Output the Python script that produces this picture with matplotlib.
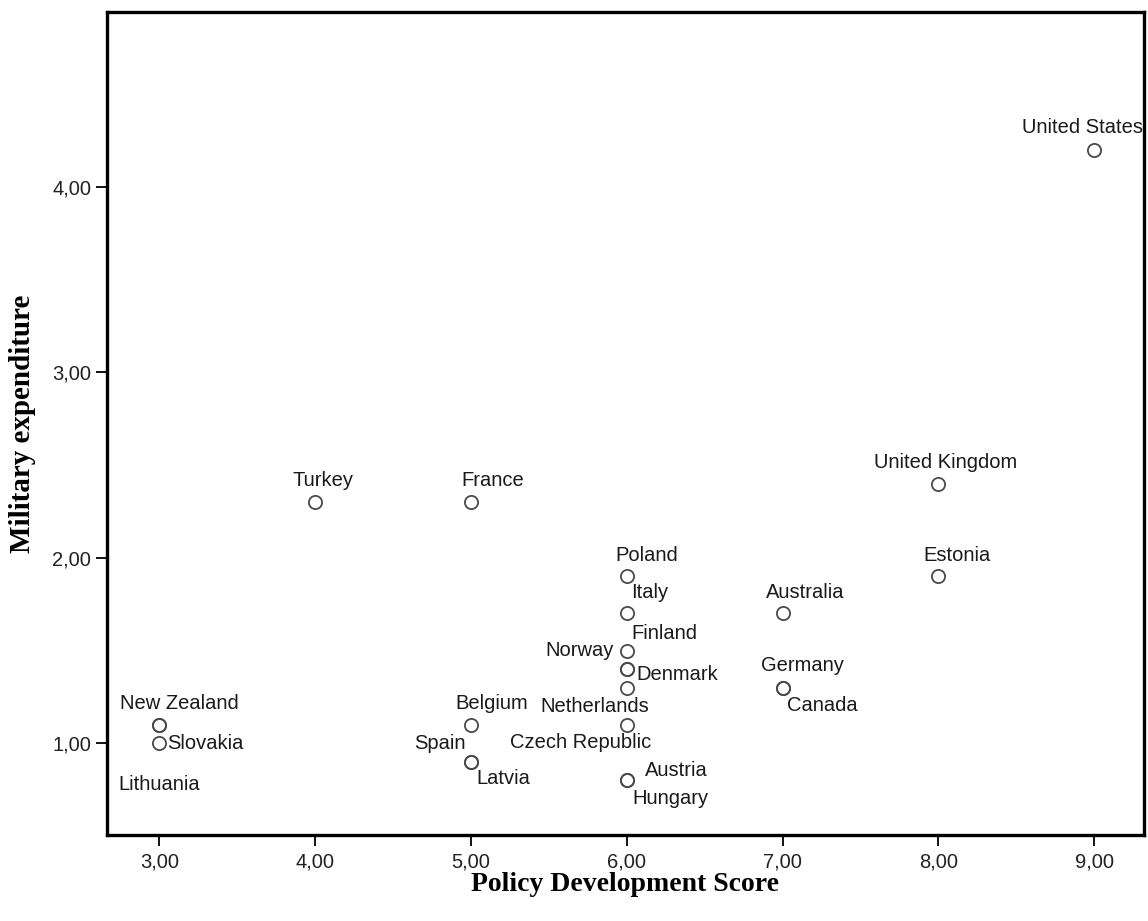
import matplotlib
matplotlib.use("Agg")
import matplotlib.pyplot as plt
from matplotlib.ticker import FuncFormatter

# policy development score vs military expenditure (% GDP)
countries = [
    "United States", "United Kingdom", "Estonia", "Turkey", "France",
    "Poland", "Italy", "Finland", "Norway", "Denmark", "Netherlands",
    "Czech Republic", "Austria", "Hungary", "Australia", "Germany", "Canada",
    "Belgium", "Spain", "Latvia", "New Zealand", "Slovakia", "Lithuania",
]
policy_score = [9, 8, 8, 4, 5, 6, 6, 6, 6, 6, 6, 6, 6, 6, 7, 7, 7, 5, 5, 5, 3, 3, 3]
military_exp = [4.2, 2.4, 1.9, 2.3, 2.3, 1.9, 1.7, 1.4, 1.5, 1.4, 1.3,
                1.1, 0.8, 0.8, 1.7, 1.3, 1.3, 1.1, 0.9, 0.9, 1.1, 1.0, 1.1]

# label offsets from the point, in pixels (dx, dy)
label_offsets = [
    (-12, 22), (7, 21), (19, 21), (8, 22), (22, 22),
    (20, 21), (23, 21), (38, 36), (-47, 0), (50, -5), (-32, -19),
    (-46, -18), (50, 10), (44, -18), (23, 21), (20, 22), (40, -18),
    (21, 21), (-31, 18), (32, -17), (20, 21), (46, 0), (0, -60),
]

x_ticks = [3, 4, 5, 6, 7, 8, 9]
y_ticks = [1, 2, 3, 4]


def comma_fmt(v, _pos):
    return f"{v:.2f}".replace(".", ",")


def main() -> None:
    plt.rcParams["font.family"] = ["Liberation Sans", "DejaVu Sans"]
    fig = plt.figure(figsize=(11.48, 9.21), dpi=100)
    ax = fig.add_axes([106.5 / 1148, 1 - 834.5 / 921, (1144 - 106.5) / 1148, (834.5 - 12.5) / 921])

    ax.plot(policy_score, military_exp, linestyle="none", marker="o", markersize=9.5,
            markerfacecolor="none", markeredgecolor="#4a4a4a", markeredgewidth=1.3)

    for name, px, py, (dx, dy) in zip(countries, policy_score, military_exp, label_offsets):
        ax.annotate(name, (px, py), xytext=(dx, dy), textcoords="offset pixels",
                    ha="center", va="center", fontsize=14.5, color="#1a1a1a")

    ax.set_xlim(2.66, 9.32)
    ax.set_ylim(0.508, 4.94)
    ax.set_xticks(x_ticks)
    ax.set_yticks(y_ticks)
    ax.xaxis.set_major_formatter(FuncFormatter(comma_fmt))
    ax.yaxis.set_major_formatter(FuncFormatter(comma_fmt))
    ax.tick_params(axis="both", direction="out", length=8, width=1.3, color="black",
                   labelsize=14.5, labelcolor="#222222", pad=3)
    ax.tick_params(axis="x", pad=5)

    for sp in ax.spines.values():
        sp.set_linewidth(2.4)
        sp.set_color("black")

    ax.set_xlabel("Policy Development Score", family="Liberation Serif", weight="bold",
                  fontsize=20, labelpad=0.5)
    ax.set_ylabel("Military expenditure", family="Liberation Serif", weight="bold",
                  fontsize=21, labelpad=12)

    fig.savefig("out.png", dpi=100, facecolor="white")
    plt.close(fig)


if __name__ == "__main__":
    main()
